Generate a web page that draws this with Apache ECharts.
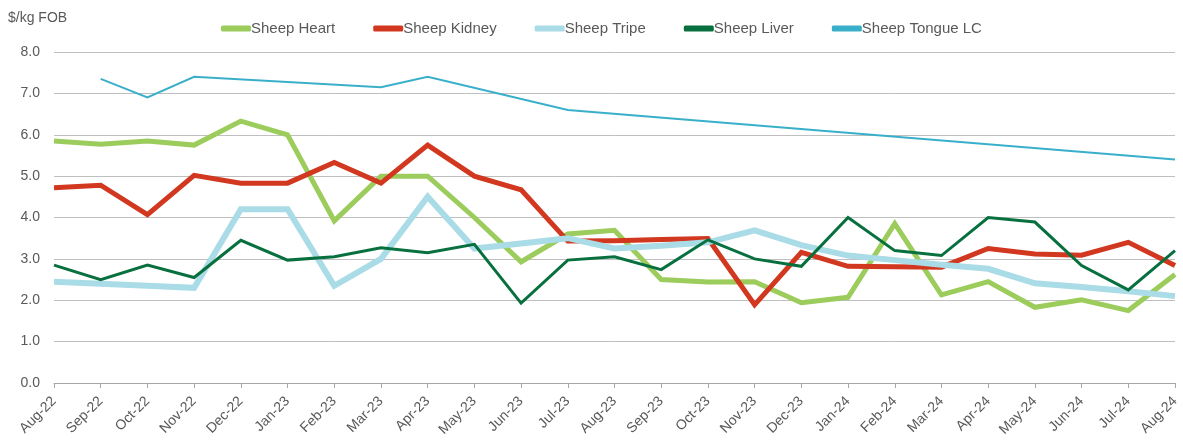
<!DOCTYPE html>
<html>
<head>
<meta charset="utf-8">
<script src="https://cdn.jsdelivr.net/npm/echarts@6/dist/echarts.min.js"></script>
<style>html,body{margin:0;padding:0;background:#fff}#c{width:1183px;height:441px}</style>
</head>
<body>
<div id="c"></div>
<script>
const categories = ['Aug-22','Sep-22','Oct-22','Nov-22','Dec-22','Jan-23','Feb-23','Mar-23','Apr-23','May-23','Jun-23','Jul-23','Aug-23','Sep-23','Oct-23','Nov-23','Dec-23','Jan-24','Feb-24','Mar-24','Apr-24','May-24','Jun-24','Jul-24','Aug-24'];
const sheepHeart  = [5.85,5.77,5.85,5.75,6.33,6.0,3.92,5.0,5.0,4.0,2.93,3.6,3.69,2.5,2.44,2.45,1.94,2.07,3.85,2.13,2.45,1.83,2.01,1.75,2.62];
const sheepKidney = [4.72,4.78,4.07,5.02,4.83,4.83,5.33,4.83,5.75,5.0,4.67,3.43,3.44,3.47,3.49,1.89,3.16,2.82,2.81,2.8,3.25,3.12,3.09,3.4,2.84];
const sheepTripe  = [2.45,2.4,2.35,2.3,4.2,4.2,2.35,3.0,4.5,3.25,3.37,3.5,3.25,3.32,3.4,3.69,3.33,3.08,2.97,2.86,2.76,2.41,2.32,2.22,2.1];
const sheepLiver  = [2.85,2.5,2.85,2.55,3.45,2.97,3.05,3.27,3.15,3.35,1.93,2.97,3.05,2.74,3.46,3.0,2.82,4.0,3.2,3.08,4.0,3.89,2.84,2.25,3.2];
const sheepTongue = [null,7.35,6.9,7.4,null,null,null,7.15,7.4,null,null,6.6,null,null,null,null,null,null,null,null,null,null,null,null,5.4];
const yTicks = [0,1,2,3,4,5,6,7,8];

const chart = echarts.init(document.getElementById('c'), null, {renderer:'canvas'});
const font = 'Liberation Sans, Arial, sans-serif';
function line(name, data, color, width, extra) {
  return Object.assign({
    name, type:'line', data, symbol:'none', smooth:false,
    lineStyle:{color, width, cap:'butt', join:'miter'}, itemStyle:{color},
    emphasis:{disabled:true}, animation:false
  }, extra || {});
}
chart.setOption({
  animation:false,
  textStyle:{fontFamily:font},
  grid:{left:54, right:8, top:52, bottom:58, containLabel:false},
  legend:{
    top:16, left:216, itemGap:38, itemWidth:30, itemHeight:6,
    icon:'roundRect',
    textStyle:{fontFamily:font, fontSize:15, color:'#595959', padding:[0,0,0,-5]},
    data:['Sheep Heart','Sheep Kidney','Sheep Tripe','Sheep Liver','Sheep Tongue LC']
  },
  xAxis:{
    type:'category', data:categories, boundaryGap:false,
    axisLine:{lineStyle:{color:'#a6a6a6', width:1}},
    axisTick:{show:true, length:5, lineStyle:{color:'#a6a6a6'}},
    axisLabel:{rotate:45, fontSize:14, color:'#595959', fontFamily:font, margin:16, interval:0},
    splitLine:{show:false}
  },
  yAxis:{
    type:'value', min:yTicks[0], max:yTicks[yTicks.length-1], interval:1,
    name:'$/kg FOB', nameLocation:'end', nameGap:0,
    nameTextStyle:{fontSize:14, color:'#595959', fontFamily:font, align:'left', padding:[0,0,27,-46]},
    axisLine:{show:false}, axisTick:{show:false},
    axisLabel:{fontSize:14, color:'#595959', fontFamily:font, margin:14, formatter:v=>v.toFixed(1)},
    splitLine:{lineStyle:{color:'#bfbfbf', width:1}}
  },
  series:[
    line('Sheep Heart', sheepHeart, '#9bcc5c', 5),
    line('Sheep Kidney', sheepKidney, '#d1381f', 5),
    line('Sheep Tripe', sheepTripe, '#a9dce6', 6),
    line('Sheep Liver', sheepLiver, '#08703f', 3),
    line('Sheep Tongue LC', sheepTongue, '#3aafca', 2, {connectNulls:true})
  ]
});
</script>
</body>
</html>
